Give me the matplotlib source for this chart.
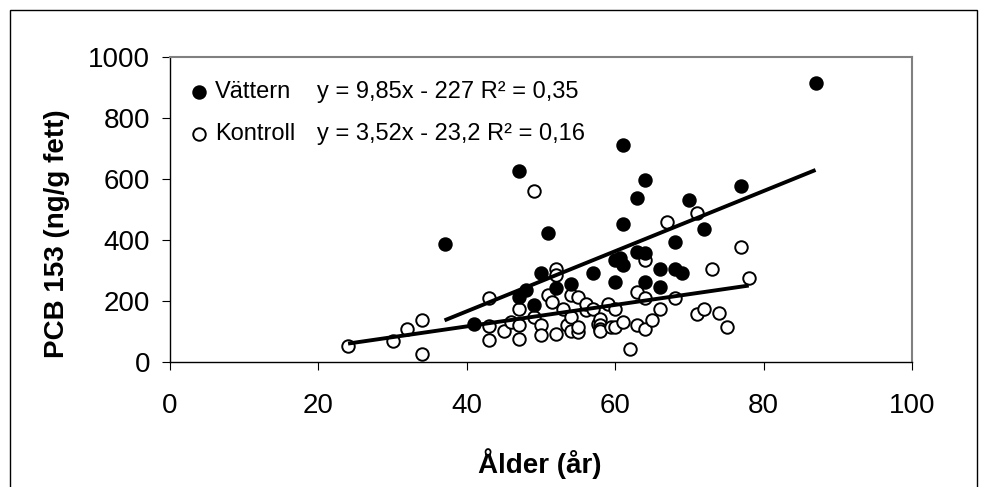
import numpy as np
import matplotlib as mpl
import matplotlib.pyplot as plt
from matplotlib.patches import Rectangle

mpl.rcParams['font.family'] = ['Liberation Sans', 'DejaVu Sans']

# Vättern (filled markers): age, PCB 153 (ng/g fett)
vattern_age = [37, 41, 47, 47, 48, 49, 50, 51, 52, 54, 57, 60, 60, 61, 61, 60.6,
               61, 63, 63, 64, 64, 64, 66, 66, 68, 68, 69, 70, 72, 77, 87]
vattern_pcb = [386, 124, 626, 214, 236, 189, 293, 423, 242, 258, 293, 335, 263,
               711, 452, 340, 318, 538, 362, 596, 357, 263, 307, 247, 395, 307,
               291, 530, 436, 576, 914]

# Kontroll (open markers)
kontroll_age = [24, 30, 32, 34, 34, 43, 43, 43, 45, 46, 47, 47, 47, 49, 49, 50,
                50, 51, 52, 52, 51.5, 52, 53, 53.5, 54, 54, 55, 54, 55, 55, 56,
                56, 57, 57.7, 58, 58, 58, 58, 59, 59.5, 60, 60, 61, 62, 63, 63,
                64, 64, 64, 65, 66, 67, 68, 71, 71, 72, 73, 74, 75, 77, 78]
kontroll_pcb = [52, 71, 108, 137, 28, 212, 118, 74, 102, 132, 176, 121, 75, 560,
                148, 121, 88, 220, 307, 285, 198, 93, 176, 121, 148, 104, 100,
                220, 214, 115, 170, 192, 176, 126, 143, 121, 110, 104, 192, 115,
                176, 115, 132, 44, 123, 231, 209, 110, 335, 137, 173, 459, 211,
                489, 159, 176, 304, 161, 115, 379, 277]

# trend lines as given in the chart
vattern_fit = (9.85, -227)
kontroll_fit = (3.52, -23.2)
vattern_eq = 'y = 9,85x - 227 R\u00b2 = 0,35'
kontroll_eq = 'y = 3,52x - 23,2 R\u00b2 = 0,16'

x_ticks = [0, 20, 40, 60, 80, 100]
y_ticks = [0, 200, 400, 600, 800, 1000]

fig = plt.figure(figsize=(9.89, 4.87), dpi=100)
ax = fig.add_axes([170 / 989, 1 - 362.3 / 487, 742 / 989, 305.3 / 487])

ms = 9
mew = 1.4

ax.plot(kontroll_age, kontroll_pcb, 'o', ms=ms, mfc='white', mec='black', mew=mew,
        zorder=3)
ax.plot(vattern_age, vattern_pcb, 'o', ms=ms, mfc='black', mec='black', mew=mew,
        zorder=4)

# regression lines over each series' age range
xv = np.array([min(vattern_age), max(vattern_age)])
ax.plot(xv, vattern_fit[0] * xv + vattern_fit[1], color='black', lw=2.8,
        solid_capstyle='butt', zorder=5)
xk = np.array([min(kontroll_age), max(kontroll_age)])
ax.plot(xk, kontroll_fit[0] * xk + kontroll_fit[1], color='black', lw=2.8,
        solid_capstyle='butt', zorder=5)

ax.set_xlim(0, 100)
ax.set_ylim(0, 1000)
ax.set_xticks(x_ticks)
ax.set_yticks(y_ticks)
ax.tick_params(axis='both', direction='out', length=5.8, width=0.8, color='black',
               labelsize=20)
ax.tick_params(axis='x', pad=16)
ax.tick_params(axis='y', pad=8.6)

for side in ['top', 'right']:
    ax.spines[side].set_color('#808080')
    ax.spines[side].set_linewidth(1.5)
for side in ['left', 'bottom']:
    ax.spines[side].set_color('black')
    ax.spines[side].set_linewidth(1.0)

# legend keys and equations
ax.plot(0.0395, 0.8864, 'o', ms=ms, mfc='black', mec='black', mew=mew,
        transform=ax.transAxes, clip_on=False)
ax.plot(0.0395, 0.7468, 'o', ms=ms, mfc='white', mec='black', mew=mew,
        transform=ax.transAxes, clip_on=False)
ax.text(0.0606, 0.8667, 'Vättern', fontsize=17, va='baseline', transform=ax.transAxes)
ax.text(0.0606, 0.7281, 'Kontroll', fontsize=17, va='baseline', transform=ax.transAxes)
ax.text(0.1977, 0.8667, vattern_eq, fontsize=17, va='baseline', transform=ax.transAxes)
ax.text(0.1977, 0.7281, kontroll_eq, fontsize=17, va='baseline', transform=ax.transAxes)

fig.text(540 / 989, 1 - 473 / 487, 'Ålder (år)', fontsize=20, fontweight='bold',
         ha='center', va='baseline')
fig.text(57 / 989, 1 - 234 / 487, 'PCB 153 (ng/g fett)', fontsize=20,
         fontweight='bold', ha='center', va='center', rotation=90)

# outer frame of the picture
fig.patches.append(Rectangle((9.5 / 989, -0.05), (977 - 9.5) / 989, 1.05 - 10 / 487,
                             transform=fig.transFigure, fill=False, ec='black', lw=1.0))

plt.savefig('out.png', dpi=100)
